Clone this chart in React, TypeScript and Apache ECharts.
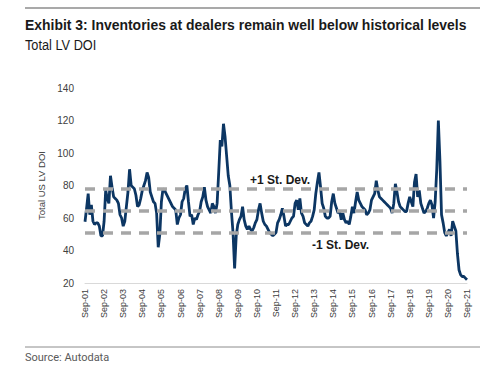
import React, { useEffect, useRef } from "react";
import * as echarts from "echarts";

// Total US LV days of inventory, monthly, Sep-01 .. Sep-21
const doi2001 = [57.7, 66, 75, 62, 68, 58, 56, 57, 57, 55, 49, 49];
const doi2002 = [58, 77, 72, 69, 86, 79, 73, 72, 71, 69, 62, 60];
const doi2003 = [55, 58, 67, 76, 90, 80, 79, 78, 74, 67, 68, 72];
const doi2004 = [77, 80, 83, 88, 85, 76, 73, 70, 69, 63, 42, 50];
const doi2005 = [70, 78, 77, 75, 73, 71, 69, 67, 66, 65, 56, 60];
const doi2006 = [62, 70, 72, 78, 80, 70, 61, 62, 56, 60, 59, 62];
const doi2007 = [64, 70, 73, 79, 71, 67, 65, 63, 69, 67, 63, 69];
const doi2008 = [88, 108, 104, 118, 110, 98, 86, 80, 64, 51, 29, 49];
const doi2009 = [56, 59, 61, 67, 59, 55, 53, 55, 53, 52, 54, 57];
const doi2010 = [59, 65, 69, 63, 58, 56, 55, 53, 51, 50, 49, 50];
const doi2011 = [51, 57, 59, 62, 66, 61, 55, 56, 56, 58, 60, 61];
const doi2012 = [69, 71, 65, 72, 63, 61, 57, 56, 55, 57, 58, 61];
const doi2013 = [65, 75, 82, 88, 79, 69, 66, 61, 60, 60, 61, 70];
const doi2014 = [75, 69, 66, 63, 64, 59, 63, 59, 57, 58, 56, 61];
const doi2015 = [67, 63, 70, 76, 71, 69, 67, 66, 65, 62, 63, 65];
const doi2016 = [71, 73, 75, 83, 77, 73, 72, 71, 70, 69, 68, 67];
const doi2017 = [66, 63, 69, 81, 76, 70, 67, 66, 65, 64, 64, 69];
const doi2018 = [73, 70, 67, 82, 87, 73, 77, 69, 66, 63, 64, 66];
const doi2019 = [69, 71, 68, 60, 70, 90, 120, 95, 62, 57, 51, 49];
const doi2020 = [51, 53, 49, 58, 55, 52, 38, 28, 25, 24, 24, 23];
const doi2021 = [22];

const stdDevLevels = [78, 64.5, 51];
const yTicks = { min: 20, max: 140, interval: 20 };
const monthNames = ["Jan", "Feb", "Mar", "Apr", "May", "Jun", "Jul", "Aug", "Sep", "Oct", "Nov", "Dec"];
const startYear = 2001;
const startMonth = 8; // September

const values = [
  ...doi2001, ...doi2002, ...doi2003, ...doi2004, ...doi2005, ...doi2006, ...doi2007,
  ...doi2008, ...doi2009, ...doi2010, ...doi2011, ...doi2012, ...doi2013, ...doi2014,
  ...doi2015, ...doi2016, ...doi2017, ...doi2018, ...doi2019, ...doi2020, ...doi2021,
];

const categories = values.map((_, i) => {
  const m = startMonth + i;
  const y = startYear + Math.floor(m / 12);
  return `${monthNames[m % 12]}-${String(y % 100).padStart(2, "0")}`;
});

const FONT = "'Liberation Sans', Arial, sans-serif";

export default function App() {
  const ref = useRef<HTMLDivElement>(null);
  useEffect(() => {
    if (!ref.current) return;
    const chart = echarts.init(ref.current, null, { renderer: "svg" });
    chart.setOption({
      animation: false,
      backgroundColor: "#ffffff",
      grid: { left: 85, right: 33, top: 88, bottom: 91, containLabel: false },
      xAxis: {
        type: "category",
        data: categories,
        boundaryGap: false,
        axisLine: { show: true, lineStyle: { color: "#d9d9d9", width: 1 } },
        axisTick: { show: false },
        splitLine: { show: false },
        axisLabel: {
          rotate: 90,
          margin: 6,
          interval: (idx: number) => idx % 12 === 0,
          fontFamily: FONT,
          fontSize: 9,
          color: "#404040",
        },
      },
      yAxis: {
        type: "value",
        min: yTicks.min,
        max: yTicks.max,
        interval: yTicks.interval,
        name: "Total US LV DOI",
        nameLocation: "middle",
        nameGap: 35,
        nameTextStyle: { fontFamily: FONT, fontSize: 9.5, color: "#404040" },
        axisLine: { show: false },
        axisTick: { show: false },
        splitLine: { show: false },
        axisLabel: { margin: 11, fontFamily: FONT, fontSize: 10, color: "#404040" },
      },
      series: [
        {
          type: "line",
          data: values,
          symbol: "none",
          lineStyle: { color: "#0c3663", width: 2.8 },
          markLine: {
            silent: true,
            symbol: "none",
            label: { show: false },
            lineStyle: { color: "#a6a6a6", width: 3.5, type: [10, 8] },
            data: stdDevLevels.map((v) => ({ yAxis: v })),
          },
        },
      ],
      graphic: [
        { type: "line", shape: { x1: 25, y1: 8, x2: 480, y2: 8 }, style: { stroke: "#8c8c8c", lineWidth: 1.5 } },
        {
          type: "text", x: 25, y: 17, scaleX: 0.93,
          style: {
            text: "Exhibit 3: Inventories at dealers remain well below historical levels",
            font: "bold 15px " + FONT,
            fill: "#1a1a1a",
            verticalAlign: "top",
          },
        },
        {
          type: "text", x: 25, y: 38, scaleX: 0.88,
          style: { text: "Total LV DOI", font: "14.5px " + FONT, fill: "#1a1a1a", verticalAlign: "top" },
        },
        {
          type: "text", left: 250, top: 174,
          style: { text: "+1 St. Dev.", font: "bold 12px " + FONT, fill: "#1a1a1a" },
        },
        {
          type: "text", left: 312, top: 239,
          style: { text: "-1 St. Dev.", font: "bold 12px " + FONT, fill: "#1a1a1a" },
        },
        { type: "line", shape: { x1: 25, y1: 347, x2: 480, y2: 347 }, style: { stroke: "#8c8c8c", lineWidth: 1 } },
        {
          type: "text", left: 25, top: 352,
          style: { text: "Source: Autodata", font: "11px Roboto, 'Liberation Sans', sans-serif", fill: "#595959" },
        },
      ],
    });
    return () => chart.dispose();
  }, []);
  return <div ref={ref} style={{ width: 500, height: 374, position: "absolute", left: 0, top: 0 }} />;
}
